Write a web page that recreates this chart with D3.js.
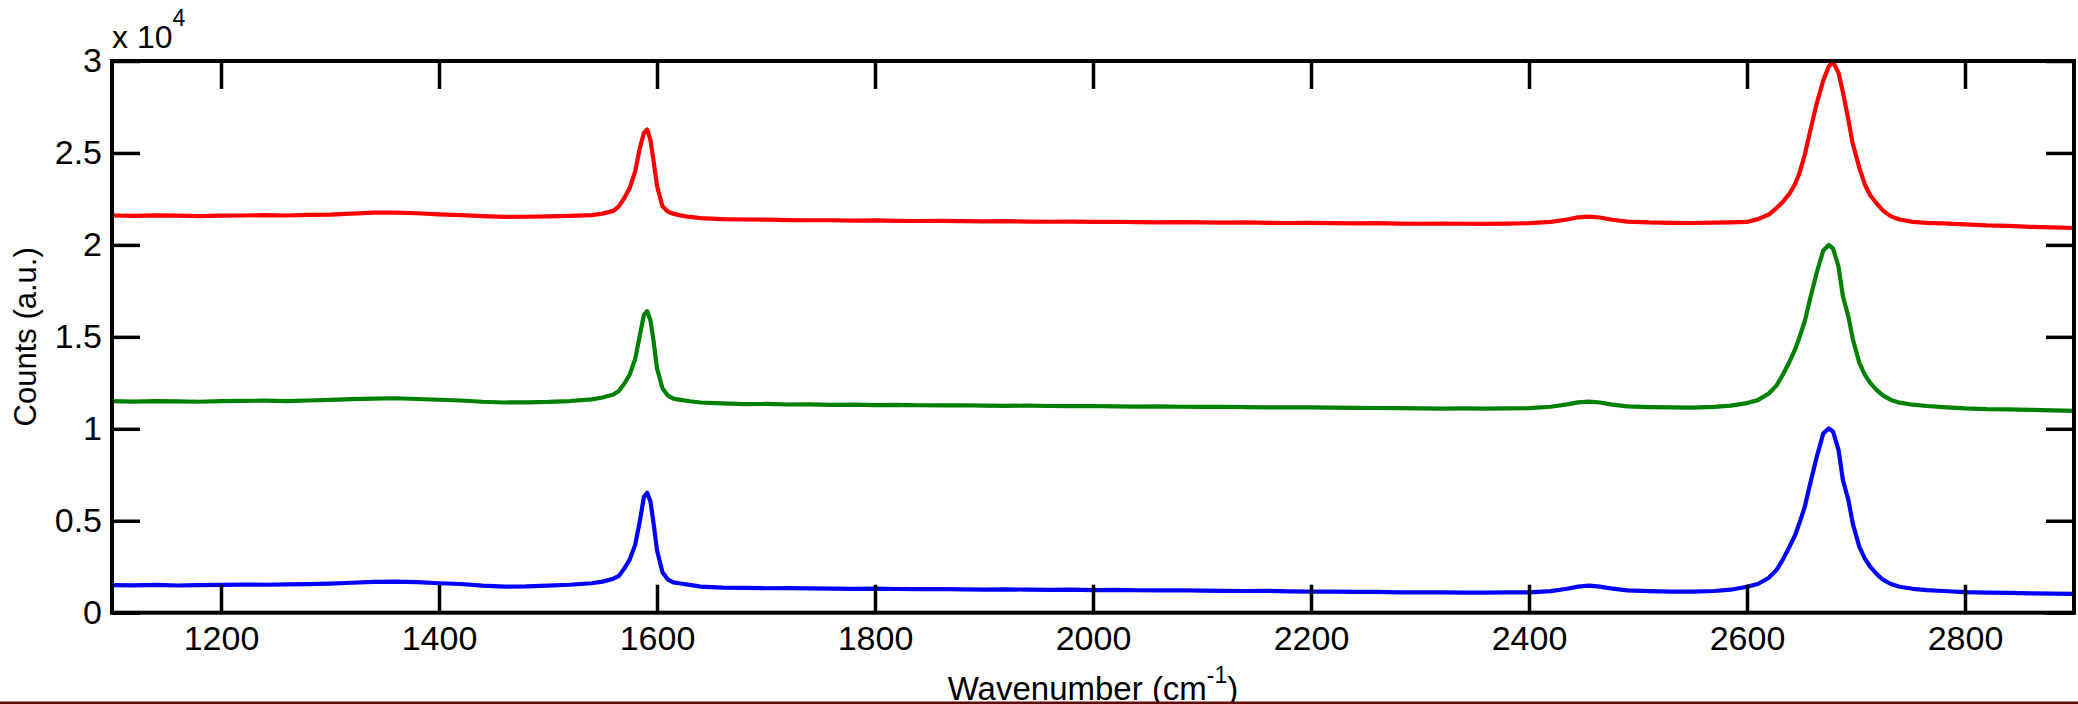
<!DOCTYPE html>
<html lang="en">
<head>
<meta charset="utf-8" />
<title>Raman spectra</title>
<script type="text/javascript" src="https://cdn.jsdelivr.net/npm/d3@7/dist/d3.min.js"></script>
<style type="text/css">
  body { margin: 0; background: #fff; }
  text { font-family: "Liberation Sans", Arial, sans-serif; fill: #000; }
</style>
</head>
<body>
<script type="text/javascript">
// wavenumbers (cm^-1) shared by all three spectra
var wavenumber = [
  1100,1120,1140,1160,1180,1200,1220,1240,1260,1280,1300,1320,1340,1360,1380,1400,1420,1440,1460,1480,1500,1520,1540,
  1550,1560,1565,1570,1575,1580,1584,1588,1591,1594,1597,1600,1605,1610,1615,1620,1630,1640,
  1660,1680,1700,1720,1740,1760,1780,1800,1820,1840,1860,1880,1900,1920,1940,1960,1980,2000,2020,2040,
  2060,2080,2100,2120,2140,2160,2180,2200,2220,2240,2260,2280,2300,2320,2340,2360,2380,2400,
  2420,2435,2445,2455,2465,2475,2490,
  2510,2530,2550,2570,2585,2600,2610,2620,2627,2633,2639,2644,2648,2653,2658,2664,2670,2675,2679,
  2684,2688,2693,2697,2703,2708,2713,2719,2725,2732,2740,2752,2765,2780,
  2800,2820,2840,2860,2880,2900
];

var countsBlue = [
  1500,1490,1510,1480,1500,1510,1530,1520,1540,1550,1580,1630,1680,1690,1660,1600,1560,1470,1420,1430,1470,1520,1600,
  1690,1850,2000,2400,2900,3700,4900,6300,6520,6050,4800,3400,2200,1800,1650,1600,1510,1420,
  1360,1350,1330,1340,1320,1310,1300,1310,1290,1280,1290,1270,1260,1270,1250,1240,1250,1230,1240,1220,
  1210,1220,1200,1190,1180,1190,1160,1150,1150,1130,1130,1110,1100,1110,1090,1090,1100,1110,
  1170,1300,1420,1470,1420,1320,1210,
  1170,1150,1150,1180,1250,1410,1560,1900,2320,2900,3590,4200,4860,5760,7030,8480,9750,10020,9840,
  8840,7210,6125,4860,3590,2950,2500,2100,1780,1560,1410,1300,1230,1180,
  1120,1090,1080,1050,1040,1020
];

var countsGreen = [
  11500,11480,11510,11490,11470,11500,11520,11530,11510,11540,11570,11610,11640,11660,11620,11580,11540,11470,11430,11440,11460,11510,11600,
  11700,11860,12050,12450,12950,13800,15000,16200,16400,15900,14700,13300,12200,11800,11640,11590,11500,11430,
  11380,11340,11350,11320,11330,11300,11310,11290,11300,11280,11270,11280,11260,11250,11260,11240,11230,11240,11220,11210,
  11220,11200,11190,11200,11180,11170,11160,11170,11150,11140,11130,11120,11110,11100,11110,11100,11110,11120,
  11200,11330,11440,11480,11430,11330,11220,
  11180,11160,11150,11190,11260,11400,11560,11920,12350,12950,13650,14300,14950,15850,17100,18500,19700,20000,19800,
  18800,17200,16100,14900,13600,12950,12500,12100,11800,11570,11420,11310,11240,11180,
  11110,11070,11060,11030,11000,10970
];

var countsRed = [
  21600,21580,21610,21590,21570,21590,21600,21620,21600,21630,21650,21700,21750,21760,21720,21660,21620,21560,21520,21530,21550,21580,21620,
  21700,21850,22100,22550,23100,24000,25200,26100,26270,25700,24500,23200,22100,21800,21700,21620,21520,21460,
  21400,21380,21370,21350,21340,21340,21320,21330,21310,21300,21310,21290,21280,21290,21270,21260,21270,21250,21260,21240,
  21230,21240,21220,21210,21220,21200,21190,21200,21180,21170,21180,21160,21150,21160,21150,21140,21160,21180,
  21250,21380,21500,21540,21490,21380,21270,
  21220,21200,21190,21210,21230,21250,21400,21650,22000,22350,22790,23300,23880,24900,26200,27700,28950,29700,29950,
  29350,28300,26800,25510,24200,23300,22700,22250,21850,21550,21380,21250,21200,21170,
  21120,21060,21030,20980,20950,20920
];

var xTicks = [1200, 1400, 1600, 1800, 2000, 2200, 2400, 2600, 2800];
var yTicks = [0, 5000, 10000, 15000, 20000, 25000, 30000];

var w = 2078;
var h = 704;
var plotLeft = 112, plotRight = 2074, plotTop = 61, plotBottom = 612.7;
var tickLen = 28;

var xScale = d3.scaleLinear().domain([1100, 2900]).range([plotLeft, plotRight]);
var yScale = d3.scaleLinear().domain([0, 30000]).range([plotBottom, plotTop]);

var svg = d3.select("body")
  .append("svg")
  .attr("width", w)
  .attr("height", h);

svg.append("rect").attr("width", w).attr("height", h).attr("fill", "#fff");

svg.append("clipPath")
  .attr("id", "plot-area")
  .append("rect")
  .attr("x", plotLeft)
  .attr("y", plotTop)
  .attr("width", plotRight - plotLeft)
  .attr("height", plotBottom - plotTop);

//spectra
var series = [
  { values: countsBlue, color: "#0000ff" },
  { values: countsGreen, color: "#008000" },
  { values: countsRed, color: "#ff0000" }
];

var line = d3.line()
  .x(function(d, i) { return xScale(wavenumber[i]); })
  .y(function(d) { return yScale(d); });

svg.append("g")
  .attr("clip-path", "url(#plot-area)")
  .selectAll("path")
  .data(series)
  .enter()
  .append("path")
  .attr("d", function(d) { return line(d.values); })
  .attr("fill", "none")
  .attr("stroke", function(d) { return d.color; })
  .attr("stroke-width", 4.2)
  .attr("stroke-linejoin", "round");

//axes, ticks pointing inwards on all four sides
function styleAxis(g) {
  g.select(".domain").remove();
  g.selectAll(".tick line").attr("stroke", "#000").attr("stroke-width", 3.5);
  g.selectAll(".tick text")
    .style("font-family", "'Liberation Sans', Arial, sans-serif")
    .style("font-size", "34px")
    .attr("fill", "#000");
}

svg.append("g")
  .attr("transform", "translate(0," + plotBottom + ")")
  .call(d3.axisBottom(xScale).tickValues(xTicks).tickSize(-tickLen).tickPadding(13).tickFormat(d3.format("d")))
  .call(styleAxis);

svg.append("g")
  .attr("transform", "translate(0," + plotTop + ")")
  .call(d3.axisTop(xScale).tickValues(xTicks).tickSize(-tickLen).tickFormat(""))
  .call(styleAxis);

svg.append("g")
  .attr("transform", "translate(" + plotLeft + ",0)")
  .call(d3.axisLeft(yScale).tickValues(yTicks).tickSize(-tickLen).tickPadding(10)
    .tickFormat(function(d) { return d / 1e4; }))
  .call(styleAxis);

svg.append("g")
  .attr("transform", "translate(" + plotRight + ",0)")
  .call(d3.axisRight(yScale).tickValues(yTicks).tickSize(-tickLen).tickFormat(""))
  .call(styleAxis);

//box
svg.append("rect")
  .attr("x", plotLeft)
  .attr("y", plotTop)
  .attr("width", plotRight - plotLeft)
  .attr("height", plotBottom - plotTop)
  .attr("fill", "none")
  .attr("stroke", "#000")
  .attr("stroke-width", 4);

//exponent label
var expo = svg.append("text")
  .attr("x", plotLeft)
  .attr("y", 48)
  .style("font-size", "32px");
expo.append("tspan").text("x 10");
expo.append("tspan").attr("dy", -22).style("font-size", "23px").text("4");

//axis titles
svg.append("text")
  .attr("transform", "translate(36," + ((plotTop + plotBottom) / 2) + ") rotate(-90)")
  .attr("text-anchor", "middle")
  .style("font-size", "31px")
  .text("Counts (a.u.)");

var xt = svg.append("text")
  .attr("x", (plotLeft + plotRight) / 2)
  .attr("y", 700)
  .attr("text-anchor", "middle")
  .style("font-size", "33px");
xt.append("tspan").text("Wavenumber (cm");
xt.append("tspan").attr("dy", -17).style("font-size", "23px").text("-1");
xt.append("tspan").attr("dy", 17).text(")");

//thin dark border along the bottom edge
svg.append("rect")
  .attr("x", 0)
  .attr("y", 701.5)
  .attr("width", w)
  .attr("height", 2.5)
  .attr("fill", "#5c0a0a");
</script>
</body>
</html>
